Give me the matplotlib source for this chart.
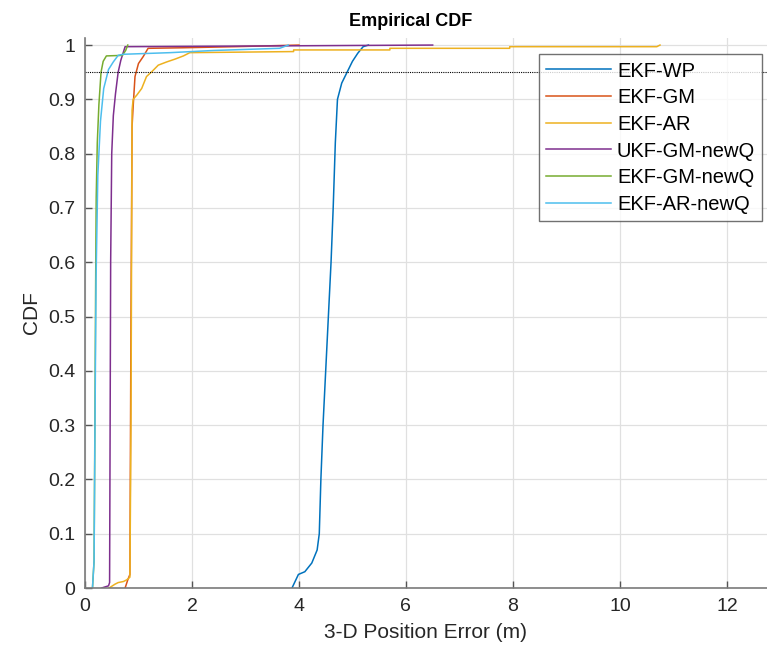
import numpy as np
import matplotlib.pyplot as plt

plt.rcParams['font.family'] = ['Liberation Sans', 'DejaVu Sans']

# ---- data (breakpoints of each empirical CDF) ----
labels = ['EKF-WP', 'EKF-GM', 'EKF-AR', 'UKF-GM-newQ', 'EKF-GM-newQ', 'EKF-AR-newQ']
colors = ['#0072BD', '#D95319', '#EDB120', '#7E2F8E', '#77AC30', '#4DBEEE']

wp_x = [3.87, 3.99, 4.11, 4.24, 4.34, 4.38, 4.41, 4.45, 4.50, 4.55, 4.60,
        4.64, 4.68, 4.72, 4.80, 4.90, 5.00, 5.10, 5.20, 5.30]
wp_y = [0.0, 0.025, 0.03, 0.046, 0.07, 0.10, 0.20, 0.30, 0.40, 0.50, 0.60,
        0.70, 0.82, 0.90, 0.93, 0.95, 0.97, 0.985, 0.997, 1.0]

gm_x = [0.75, 0.80, 0.84, 0.86, 0.88, 0.90, 0.935, 1.00, 1.09, 1.18, 1.83, 2.8, 4.0]
gm_y = [0.0, 0.015, 0.025, 0.50, 0.85, 0.886, 0.942, 0.966, 0.979, 0.994, 0.995, 0.997, 1.0]

ar_x = [0.45, 0.56, 0.62, 0.72, 0.78, 0.84, 0.86, 0.88, 0.90, 0.97, 1.06, 1.15,
        1.25, 1.37, 1.53, 1.68, 1.84, 1.96, 3.9, 3.9, 5.7, 5.7, 7.94, 7.94,
        10.69, 10.75]
ar_y = [0.0, 0.007, 0.01, 0.012, 0.015, 0.02, 0.30, 0.88, 0.90, 0.908, 0.92, 0.942,
        0.951, 0.963, 0.969, 0.974, 0.98, 0.986, 0.988, 0.991, 0.991, 0.994, 0.994,
        0.997, 0.997, 1.0]

ukf_x = [0.31, 0.44, 0.46, 0.47, 0.48, 0.50, 0.53, 0.57, 0.62, 0.67, 0.75, 6.5]
ukf_y = [0.0, 0.004, 0.01, 0.30, 0.60, 0.80, 0.87, 0.91, 0.95, 0.972, 0.997, 1.0]

gmq_x = [0.14, 0.17, 0.185, 0.20, 0.21, 0.23, 0.26, 0.30, 0.34, 0.40, 0.70, 0.76, 0.80]
gmq_y = [0.0, 0.05, 0.30, 0.57, 0.72, 0.82, 0.89, 0.95, 0.97, 0.98, 0.981, 0.99, 1.0]

arq_x = [0.14, 0.17, 0.187, 0.207, 0.24, 0.29, 0.35, 0.44, 0.53, 0.62, 0.71,
         1.59, 2.4, 3.64, 3.8]
arq_y = [0.0, 0.05, 0.30, 0.57, 0.76, 0.86, 0.92, 0.955, 0.969, 0.981, 0.983,
         0.986, 0.99, 0.994, 1.0]

series_x = [wp_x, gm_x, ar_x, ukf_x, gmq_x, arq_x]
series_y = [wp_y, gm_y, ar_y, ukf_y, gmq_y, arq_y]

threshold = 0.95
xticks = [0, 2, 4, 6, 8, 10, 12]
yticks = [0, 0.1, 0.2, 0.3, 0.4, 0.5, 0.6, 0.7, 0.8, 0.9, 1]
ytick_labels = ['0', '0.1', '0.2', '0.3', '0.4', '0.5', '0.6', '0.7', '0.8', '0.9', '1']

# ---- figure ----
fig = plt.figure(figsize=(7.67, 6.54), dpi=100)
ax = fig.add_axes([0.1108, 0.1009, 0.8892, 0.8410])

for x, y, c, lab in zip(series_x, series_y, colors, labels):
    ax.plot(x, y, color=c, linewidth=1.1, label=lab)

ax.axhline(threshold, color='black', linestyle=(0, (1, 1)), linewidth=0.8)

ax.set_xlim(0, 12.75)
ax.set_ylim(0, 1.013)
ax.set_xticks(xticks)
ax.set_yticks(yticks)
ax.set_yticklabels(ytick_labels)

ax.grid(True, color='#e0e0e0', linewidth=0.9)
ax.set_axisbelow(True)
for s in ['top', 'right']:
    ax.spines[s].set_visible(False)
for s in ['left', 'bottom']:
    ax.spines[s].set_color('#7a7a7a')
    ax.spines[s].set_linewidth(1.2)
ax.tick_params(direction='in', length=5, width=1.0, color='#555555',
               labelsize=14, labelcolor='#262626', pad=7)

ax.set_xlabel('3-D Position Error (m)', fontsize=15, color='#262626', labelpad=6)
ax.set_ylabel('CDF', fontsize=15, color='#262626', labelpad=5)
ax.text(0.478, 1.014, 'Empirical CDF', transform=ax.transAxes, ha='center',
        va='bottom', fontsize=13, fontweight='bold', color='black')

leg = ax.legend(loc='upper right', bbox_to_anchor=(0.993, 0.97), fontsize=14.5,
                frameon=True, fancybox=False, handlelength=3.2, handletextpad=0.3,
                labelspacing=0.38, borderpad=0.35, borderaxespad=0)
leg.get_frame().set_edgecolor('#4d4d4d')
leg.get_frame().set_linewidth(1.0)

fig.savefig('out.png', dpi=100)
